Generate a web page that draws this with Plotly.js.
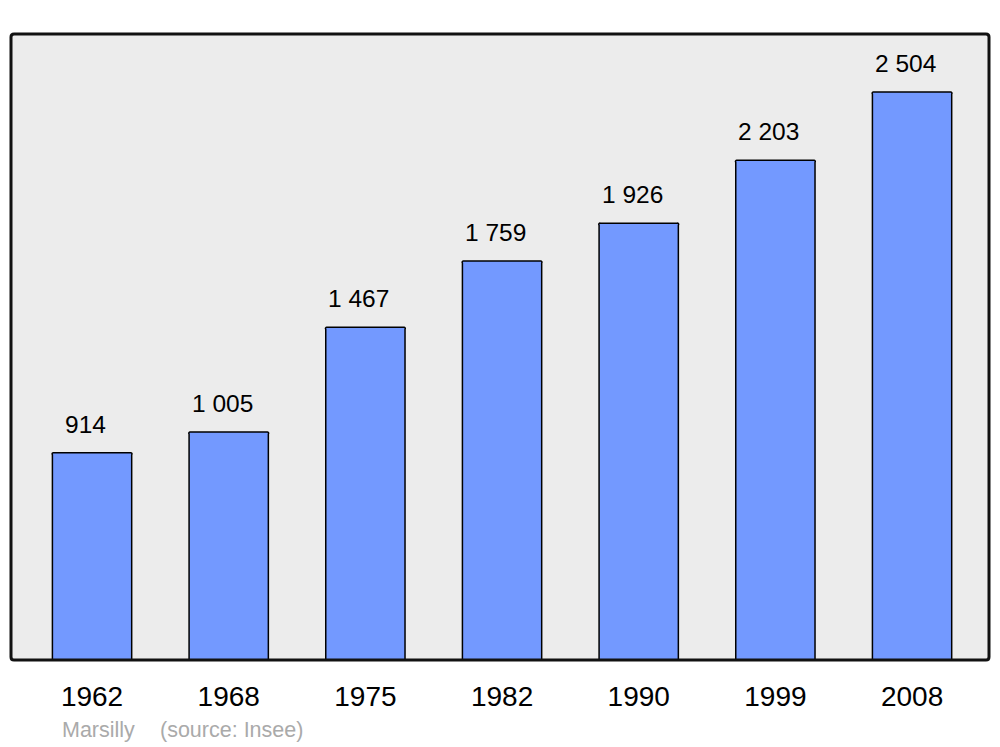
<!DOCTYPE html>
<html>
<head>
<meta charset="utf-8">
<script src="https://cdn.plot.ly/plotly-3.0.1.min.js"></script>
<style>html,body{margin:0;padding:0;background:#fff;}#chart{width:1000px;height:747px;}</style>
</head>
<body>
<div id="chart"></div>
<script>
const years = ["1962", "1968", "1975", "1982", "1990", "1999", "2008"];
const population = [914, 1005, 1467, 1759, 1926, 2203, 2504];
const valueLabels = ["914", "1 005", "1 467", "1 759", "1 926", "2 203", "2 504"];
const townName = "Marsilly";
const sourceText = "(source: Insee)";

const xs = years.map((_, i) => i);
const font = "Liberation Sans, Arial, sans-serif";

const trace = {
  type: "bar",
  x: xs,
  y: population,
  width: 0.58,
  marker: {color: "#7399ff", line: {color: "#000", width: 1.5}, cornerradius: 2},
  hoverinfo: "skip"
};

const annotations = xs.map((x, i) => ({
  x: x, y: population[i], xref: "x", yref: "y",
  text: valueLabels[i], showarrow: false,
  yanchor: "middle", yshift: 28.5, xshift: -6.5,
  font: {family: font, size: 24.5, color: "#000"}
}));
annotations.push({
  xref: "paper", yref: "paper", x: (60 - 11) / 978, y: (660 - 730) / 626,
  xanchor: "left", yanchor: "middle", text: townName, showarrow: false,
  font: {family: font, size: 21.5, color: "#aaaaaa"}
});
annotations.push({
  xref: "paper", yref: "paper", x: (158 - 11) / 978, y: (660 - 730) / 626,
  xanchor: "left", yanchor: "middle", text: sourceText, showarrow: false,
  font: {family: font, size: 21.5, color: "#aaaaaa"}
});

const rx = 3 / 978, ry = 3 / 626;
const framePath = `M ${rx},0 L ${1 - rx},0 Q 1,0 1,${ry} L 1,${1 - ry} Q 1,1 ${1 - rx},1 L ${rx},1 Q 0,1 0,${1 - ry} L 0,${ry} Q 0,0 ${rx},0 Z`;

const layout = {
  width: 1000, height: 747,
  margin: {l: 11, r: 11, t: 34, b: 87, pad: 0},
  paper_bgcolor: "#ffffff",
  plot_bgcolor: "#ececec",
  showlegend: false,
  bargap: 0,
  xaxis: {
    range: [-0.593, 6.563], tickvals: xs, ticktext: years,
    showgrid: false, zeroline: false, showline: false,
    ticks: "outside", ticklen: 11, tickcolor: "rgba(0,0,0,0)",
    tickfont: {family: font, size: 28, color: "#000"},
    fixedrange: true
  },
  yaxis: {
    range: [0, 2760], showgrid: false, zeroline: false, showline: false,
    showticklabels: false, ticks: "", fixedrange: true
  },
  shapes: [{
    type: "path", xref: "paper", yref: "paper", path: framePath,
    line: {color: "#111", width: 3}, fillcolor: "rgba(0,0,0,0)", layer: "above"
  }],
  annotations: annotations
};

Plotly.newPlot("chart", [trace], layout, {displayModeBar: false, staticPlot: true});
</script>
</body>
</html>
